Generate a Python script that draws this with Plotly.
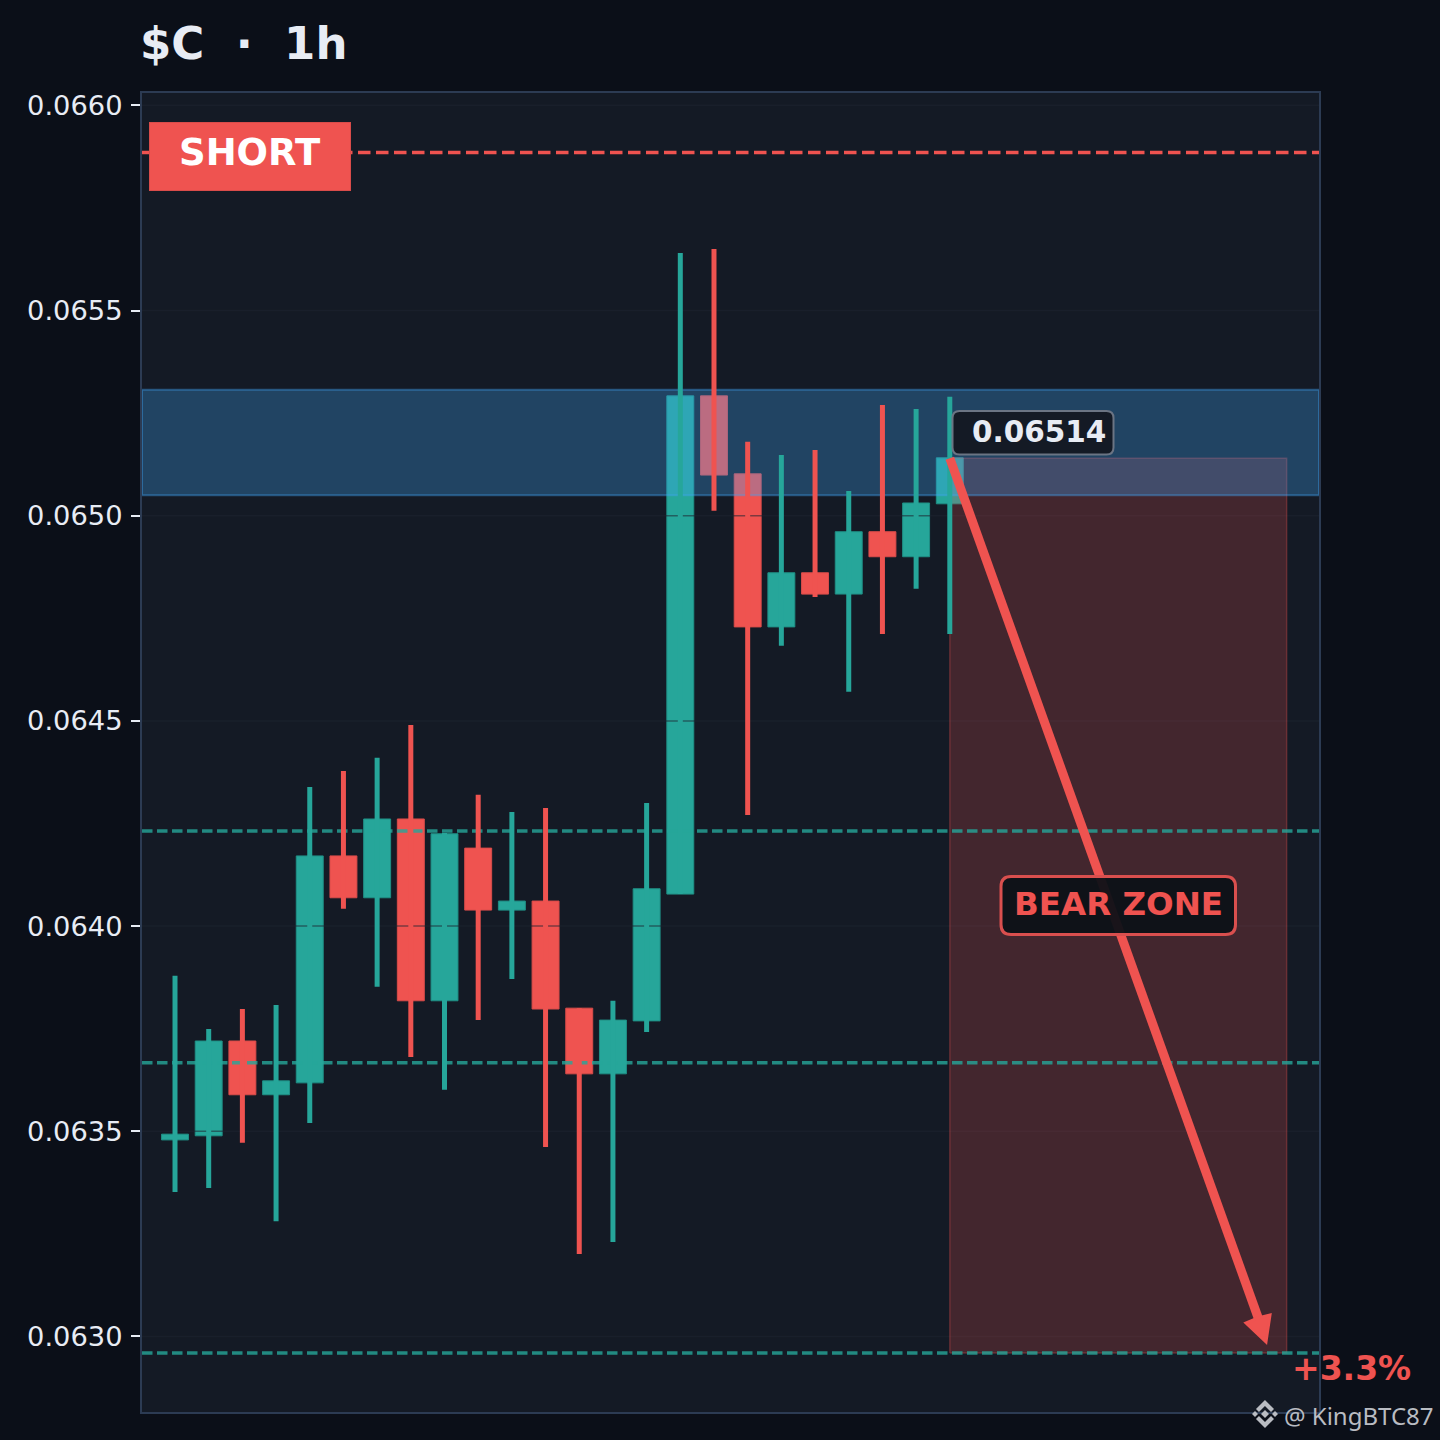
import plotly.graph_objects as go

# candles, oldest first
opens = [0.063479, 0.063489, 0.063720, 0.063589, 0.063618, 0.064171, 0.064069, 0.064261,
         0.063818, 0.064190, 0.064039, 0.064061, 0.063800, 0.063640, 0.063769, 0.064078,
         0.065292, 0.065102, 0.064729, 0.064861, 0.064809, 0.064961, 0.064900, 0.065029]
closes = [0.063493, 0.063720, 0.063589, 0.063623, 0.064171, 0.064069, 0.064261, 0.063818,
          0.064225, 0.064039, 0.064061, 0.063798, 0.063640, 0.063771, 0.064091, 0.065292,
          0.065099, 0.064729, 0.064861, 0.064809, 0.064961, 0.064900, 0.065031, 0.065141]
highs = [0.063879, 0.063749, 0.063798, 0.063808, 0.064339, 0.064378, 0.064410, 0.064490,
         0.064227, 0.064320, 0.064278, 0.064288, 0.063800, 0.063818, 0.064300, 0.065640,
         0.065650, 0.065180, 0.065148, 0.065160, 0.065060, 0.065270, 0.065260, 0.065290]
lows = [0.063352, 0.063362, 0.063472, 0.063281, 0.063520, 0.064042, 0.063852, 0.063681,
        0.063601, 0.063771, 0.063871, 0.063462, 0.063201, 0.063230, 0.063742, 0.064078,
        0.065012, 0.064271, 0.064683, 0.064802, 0.064571, 0.064712, 0.064822, 0.064712]

tick_values = [0.0630, 0.0635, 0.0640, 0.0645, 0.0650, 0.0655, 0.0660]
tick_labels = ["0.0630", "0.0635", "0.0640", "0.0645", "0.0650", "0.0655", "0.0660"]

short_level = 0.065885
support_levels = [0.064232, 0.063667, 0.062960]
band_low, band_high = 0.065050, 0.065307
entry_price = 0.065140
zone_start, zone_end = 23, 33
zone_low = 0.062960

UP = "#26a69a"
DOWN = "#ef5350"
UP_EDGE = "#1f8f85"
DOWN_EDGE = "#d94c4a"
BG = "#0b0f18"
PANEL = "#141a25"
TEXT = "#e8ecf4"

# plot area in page pixels, used for the labels that sit on top of the chart
LEFT, RIGHT, TOP, BOTTOM = 142, 1319, 93, 1412


def px_x(p):
    return (p - LEFT) / (RIGHT - LEFT)


def px_y(p):
    return 1 - (p - TOP) / (BOTTOM - TOP)


def poly(points):
    return "M" + " L".join(f"{px_x(x):.5f},{px_y(y):.5f}" for x, y in points) + " Z"


def rounded_box(x0, y0, x1, y1, r):
    sx, sy = px_x, px_y
    return (f"M{sx(x0 + r)},{sy(y0)} L{sx(x1 - r)},{sy(y0)} Q{sx(x1)},{sy(y0)} {sx(x1)},{sy(y0 + r)} "
            f"L{sx(x1)},{sy(y1 - r)} Q{sx(x1)},{sy(y1)} {sx(x1 - r)},{sy(y1)} "
            f"L{sx(x0 + r)},{sy(y1)} Q{sx(x0)},{sy(y1)} {sx(x0)},{sy(y1 - r)} "
            f"L{sx(x0)},{sy(y0 + r)} Q{sx(x0)},{sy(y0)} {sx(x0 + r)},{sy(y0)} Z")


positions = list(range(len(opens)))
x_min, x_max = -0.98, 33.96

fig = go.Figure()

# candle bodies, bars always sit under the scatter traces
fig.add_trace(go.Bar(
    x=positions,
    y=[abs(c - o) for o, c in zip(opens, closes)],
    base=[min(o, c) for o, c in zip(opens, closes)],
    width=0.8,
    marker=dict(color=[UP if c >= o else DOWN for o, c in zip(opens, closes)],
                line=dict(color=[UP_EDGE if c >= o else DOWN_EDGE for o, c in zip(opens, closes)], width=1)),
    showlegend=False,
))

# grid goes over the bodies but under the wicks
for value in tick_values:
    fig.add_trace(go.Scatter(x=[x_min, x_max], y=[value, value], mode="lines",
                             line=dict(color="rgba(30,37,49,0.55)", width=1.5), showlegend=False))

# bear zone
fig.add_trace(go.Scatter(
    x=[zone_start, zone_end, zone_end, zone_start, zone_start],
    y=[zone_low, zone_low, entry_price, entry_price, zone_low],
    mode="lines", fill="toself", fillcolor="rgba(239,83,80,0.22)",
    line=dict(color="rgba(239,83,80,0.3)", width=1.5), showlegend=False,
))
# resistance band
fig.add_trace(go.Scatter(
    x=[x_min, x_max, x_max, x_min, x_min],
    y=[band_low, band_low, band_high, band_high, band_low],
    mode="lines", fill="toself", fillcolor="rgba(66,165,245,0.3)",
    line=dict(color="rgba(66,165,245,0.4)", width=2), showlegend=False,
))

fig.add_trace(go.Scatter(x=[x_min, x_max], y=[short_level, short_level], mode="lines",
                         line=dict(color=DOWN, width=3.5, dash="12.5px,5.5px"), showlegend=False))
for level in support_levels:
    fig.add_trace(go.Scatter(x=[x_min, x_max], y=[level, level], mode="lines",
                             line=dict(color="rgba(38,166,154,0.8)", width=3.5, dash="10.5px,4.5px"),
                             showlegend=False))

# wicks come last so they stay on top of the band
for i in positions:
    fig.add_trace(go.Scatter(x=[i, i], y=[lows[i], highs[i]], mode="lines",
                             line=dict(color=UP if closes[i] >= opens[i] else DOWN, width=5),
                             showlegend=False))

shapes = [
    # arrow shaft and head
    dict(type="line", xref="x", yref="y", x0=zone_start, y0=entry_price, x1=32.2, y1=0.063035,
         line=dict(color=DOWN, width=9), layer="above"),
    dict(type="path", xref="paper", yref="paper", path=poly([(1266, 1342), (1246, 1323), (1258, 1318), (1270, 1315)]),
         fillcolor=DOWN, line=dict(color=DOWN, width=3), layer="above"),
    # label boxes
    dict(type="path", xref="paper", yref="paper", path=rounded_box(1001, 876.5, 1235.5, 934.5, 10),
         fillcolor="rgba(13,17,23,0.95)", line=dict(color="#d94f4e", width=3), layer="above"),
    dict(type="path", xref="paper", yref="paper", path=rounded_box(952.5, 411, 1113.5, 454.5, 7),
         fillcolor=PANEL, line=dict(color="#6b7483", width=2), layer="above"),
    # exchange mark next to the watermark
    dict(type="path", xref="paper", yref="paper", path=poly([(1265, 1410), (1269, 1414), (1265, 1418), (1261, 1414)]),
         fillcolor="#b9bcc2", line=dict(width=0), layer="above"),
    dict(type="path", xref="paper", yref="paper", path=poly([(1265, 1400), (1274, 1409), (1271, 1412), (1265, 1406), (1259, 1412), (1256, 1409)]),
         fillcolor="#b9bcc2", line=dict(width=0), layer="above"),
    dict(type="path", xref="paper", yref="paper", path=poly([(1265, 1428), (1274, 1419), (1271, 1416), (1265, 1422), (1259, 1416), (1256, 1419)]),
         fillcolor="#b9bcc2", line=dict(width=0), layer="above"),
    dict(type="path", xref="paper", yref="paper", path=poly([(1255, 1411), (1258, 1414), (1255, 1417), (1252, 1414)]),
         fillcolor="#b9bcc2", line=dict(width=0), layer="above"),
    dict(type="path", xref="paper", yref="paper", path=poly([(1275, 1411), (1278, 1414), (1275, 1417), (1272, 1414)]),
         fillcolor="#b9bcc2", line=dict(width=0), layer="above"),
]

font_name = "DejaVu Sans"
annotations = [
    dict(text="<b>$C\u00a0\u00a0·\u00a0\u00a01h</b>", x=px_x(138), y=px_y(43), xanchor="left", yanchor="middle",
         font=dict(size=45, color=TEXT, family=font_name)),
    dict(text="<b>SHORT</b>", x=px_x(250), y=px_y(156), xanchor="center", yanchor="middle",
         width=200, height=67, bgcolor=DOWN, bordercolor="#d94c4a", borderwidth=1, borderpad=0,
         font=dict(size=1, color=DOWN, family=font_name)),
    dict(text="<b>SHORT</b>", x=px_x(250), y=px_y(153), xanchor="center", yanchor="middle",
         font=dict(size=37, color="white", family=font_name)),
    dict(text=f"<b>{entry_price:.5f}</b>", x=px_x(1039), y=px_y(431.5), xanchor="center", yanchor="middle",
         font=dict(size=29.5, color=TEXT, family=font_name)),
    dict(text="<b>BEAR ZONE</b>", x=px_x(1118.5), y=px_y(904), xanchor="center", yanchor="middle",
         font=dict(size=32.5, color=DOWN, family=font_name)),
    dict(text="<b>+3.3%</b>", x=px_x(1352), y=px_y(1368), xanchor="center", yanchor="middle",
         font=dict(size=33, color=DOWN, family=font_name)),
    dict(text="@ KingBTC87", x=px_x(1281.5), y=px_y(1415), xanchor="left", yanchor="middle",
         font=dict(size=24, color="#b9bcc2", family="Noto Sans")),
]
for a in annotations:
    a.update(xref="paper", yref="paper", showarrow=False)

fig.update_layout(
    width=1440,
    height=1440,
    margin=dict(l=LEFT, r=1440 - RIGHT, t=TOP, b=1440 - BOTTOM, pad=0),
    paper_bgcolor=BG,
    plot_bgcolor=PANEL,
    barmode="overlay",
    showlegend=False,
    shapes=shapes,
    annotations=annotations,
    xaxis=dict(range=[x_min, x_max], showgrid=False, zeroline=False, showticklabels=False,
               ticks="", showline=True, mirror=True, linecolor="#2c3b53", linewidth=2),
    yaxis=dict(range=[0.062816, 0.066030], tickvals=tick_values, ticktext=tick_labels,
               showgrid=False, zeroline=False, ticks="outside", ticklen=9, tickwidth=2, tickcolor=TEXT,
               showline=True, mirror=True, linecolor="#2c3b53", linewidth=2, ticklabelstandoff=3,
               tickfont=dict(size=27.3, color=TEXT, family=font_name)),
)

fig.write_html("out.html", post_script="document.body.style.margin='0';", config=dict(displayModeBar=False))
